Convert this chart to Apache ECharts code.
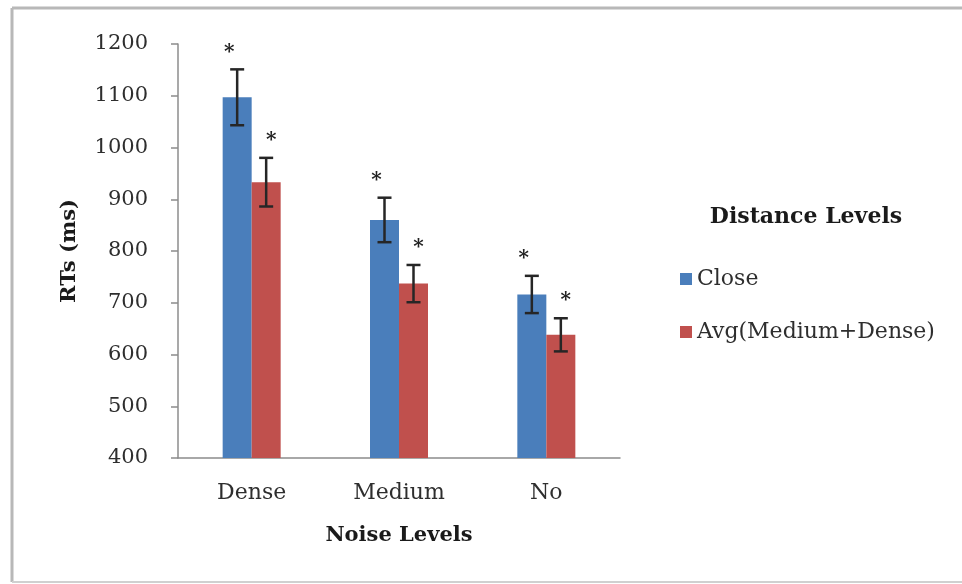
<!DOCTYPE html>
<html>
<head>
<meta charset="utf-8">
<title>RTs by Noise Levels</title>
<script src="https://cdn.jsdelivr.net/npm/echarts@6/dist/echarts.min.js"></script>
<style>
  html, body { margin: 0; padding: 0; background: #ffffff; }
  #chart { width: 962px; height: 584px; }
</style>
</head>
<body>
<div id="chart"></div>
<script>
// Noise level categories on the x axis
const categories = ['Dense', 'Medium', 'No'];

// Mean reaction times (ms) and their error margins
const closeRT = [1097, 860, 716];
const closeErr = [54, 43, 36];
const avgRT = [933, 737, 638];
const avgErr = [47, 36, 32];

// Series names shown in the legend
const seriesNames = ['Close', 'Avg(Medium+Dense)'];

// Y axis range and step
const yMin = 400;
const yMax = 1200;
const yStep = 100;

const BAR_W = 29;
const FONT = 'DejaVu Serif';
const COLORS = ['#4a7ebb', '#c0504d'];

// [category index, low, high] for each error bar
function errorData(means, errs) {
  return means.map((m, i) => [i, m - errs[i], m + errs[i]]);
}

// Draws an error bar with caps plus a significance star above it
function errorRenderer(side, starDx) {
  return function (params, api) {
    const cat = api.value(0);
    const pLo = api.coord([cat, api.value(1)]);
    const pHi = api.coord([cat, api.value(2)]);
    const x = pLo[0] + side * BAR_W / 2;
    const cap = 7;
    const stroke = { stroke: '#262626', lineWidth: 2.5 };
    return {
      type: 'group',
      children: [
        { type: 'line', shape: { x1: x, y1: pHi[1], x2: x, y2: pLo[1] }, style: stroke },
        { type: 'line', shape: { x1: x - cap, y1: pHi[1], x2: x + cap, y2: pHi[1] }, style: stroke },
        { type: 'line', shape: { x1: x - cap, y1: pLo[1], x2: x + cap, y2: pLo[1] }, style: stroke },
        {
          type: 'text',
          style: {
            text: '*', x: x + starDx, y: pHi[1] - 17,
            fill: '#222', font: 'bold 20px "' + FONT + '"',
            align: 'center', verticalAlign: 'middle'
          }
        }
      ]
    };
  };
}

const chart = echarts.init(document.getElementById('chart'), null, { renderer: 'canvas' });

// Page frame: left, top and bottom edges
const frameStyle = { stroke: '#b8b8b8', lineWidth: 3 };

chart.setOption({
  backgroundColor: '#ffffff',
  animation: false,
  graphic: [
    { type: 'line', silent: true, shape: { x1: 12, y1: 8, x2: 12, y2: 582 }, style: frameStyle },
    { type: 'line', silent: true, shape: { x1: 12, y1: 8, x2: 962, y2: 8 }, style: frameStyle },
    { type: 'line', silent: true, shape: { x1: 12, y1: 582, x2: 962, y2: 582 }, style: { stroke: '#d0d0d0', lineWidth: 2 } }
  ],
  title: {
    text: 'Distance Levels',
    left: 801,
    top: 201,
    textAlign: 'center',
    textStyle: { fontFamily: FONT, fontSize: 22, fontWeight: 'bold', color: '#1a1a1a' }
  },
  legend: {
    orient: 'vertical',
    left: 675,
    top: 262,
    itemWidth: 12,
    itemHeight: 12,
    itemGap: 29,
    icon: 'rect',
    data: seriesNames,
    textStyle: { fontFamily: FONT, fontSize: 22, color: '#2e2e2e', lineHeight: 24 }
  },
  grid: { left: 178, right: 342, top: 44, bottom: 126, containLabel: false },
  xAxis: {
    type: 'category',
    data: categories,
    name: 'Noise Levels',
    nameLocation: 'middle',
    nameGap: 67,
    nameTextStyle: { fontFamily: FONT, fontSize: 21, fontWeight: 'bold', color: '#1a1a1a' },
    axisLine: { lineStyle: { color: '#8c8c8c', width: 1.5 } },
    axisTick: { show: false },
    axisLabel: { margin: 24, fontFamily: FONT, fontSize: 22, color: '#2e2e2e' }
  },
  yAxis: {
    type: 'value',
    min: yMin,
    max: yMax,
    interval: yStep,
    name: 'RTs (ms)',
    nameLocation: 'middle',
    nameRotate: 90,
    nameGap: 98,
    nameTextStyle: { fontFamily: FONT, fontSize: 21, fontWeight: 'bold', color: '#1a1a1a' },
    axisLine: { show: true, lineStyle: { color: '#8c8c8c', width: 1.5 } },
    axisTick: { show: true, inside: false, length: 7, lineStyle: { color: '#8c8c8c', width: 1.5 } },
    splitLine: { show: false },
    axisLabel: {
      margin: 30, fontFamily: FONT, fontSize: 21, color: '#2e2e2e',
      formatter: (v) => String(v)
    }
  },
  series: [
    {
      name: seriesNames[0], type: 'bar', data: closeRT,
      barWidth: BAR_W, barGap: '0%',
      itemStyle: { color: COLORS[0] }
    },
    {
      name: seriesNames[1], type: 'bar', data: avgRT,
      barWidth: BAR_W, barGap: '0%',
      itemStyle: { color: COLORS[1] }
    },
    {
      type: 'custom', name: 'closeErr', z: 5,
      renderItem: errorRenderer(-1, -8),
      encode: { x: 0, y: [1, 2] },
      data: errorData(closeRT, closeErr)
    },
    {
      type: 'custom', name: 'avgErr', z: 5,
      renderItem: errorRenderer(1, 5),
      encode: { x: 0, y: [1, 2] },
      data: errorData(avgRT, avgErr)
    }
  ]
});
</script>
</body>
</html>
